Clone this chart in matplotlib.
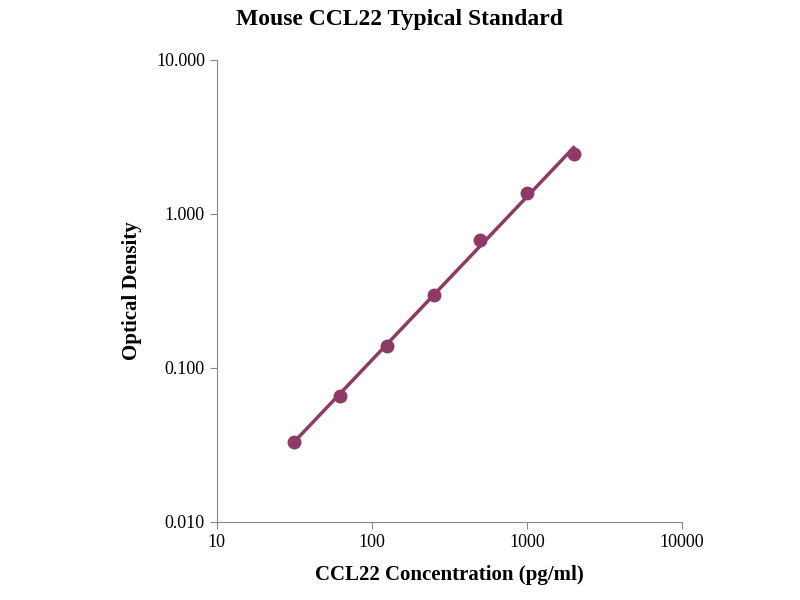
import numpy as np
import matplotlib
matplotlib.use("Agg")
import matplotlib.pyplot as plt
from matplotlib.ticker import FixedLocator, NullLocator

plt.rcParams['font.family'] = ['Liberation Serif', 'DejaVu Serif']

# standard curve points
conc = [31.25, 62.5, 125, 250, 500, 1000, 2000]
od = [0.033, 0.066, 0.138, 0.30, 0.68, 1.37, 2.45]

xticks = [10, 100, 1000, 10000]
xlabels = ['10', '100', '1000', '10000']
yticks = [0.01, 0.1, 1, 10]
ylabels = ['0.010', '0.100', '1.000', '10.000']

color = '#8E3A66'

fig = plt.figure(figsize=(8, 6), dpi=100)
ax = fig.add_axes([0.271, 0.13, 0.5815, 0.77])

# power fit on log scale
slope, icpt = np.polyfit(np.log10(conc), np.log10(od), 1)
xf = np.array([conc[0], conc[-1]])
ax.plot(xf, 10 ** (icpt + slope * np.log10(xf)), color=color, lw=2.5)
ax.plot(conc, od, 'o', color=color, ms=9)

ax.set_xscale('log')
ax.set_yscale('log')
ax.set_xlim(10, 10000)
ax.set_ylim(0.01, 10)
ax.xaxis.set_major_locator(FixedLocator(xticks))
ax.yaxis.set_major_locator(FixedLocator(yticks))
ax.xaxis.set_minor_locator(NullLocator())
ax.yaxis.set_minor_locator(NullLocator())
ax.set_xticklabels(xlabels, fontsize=13)
ax.set_yticklabels(ylabels, fontsize=13)
ax.tick_params(length=5, color='#888888')
for s in ['top', 'right']:
    ax.spines[s].set_visible(False)
for s in ['left', 'bottom']:
    ax.spines[s].set_color('#888888')

ax.set_xlabel('CCL22 Concentration (pg/ml)', fontsize=15, fontweight='bold', labelpad=10)
ax.set_ylabel('Optical Density', fontsize=15, fontweight='bold', labelpad=10)
fig.suptitle('Mouse CCL22 Typical Standard', fontsize=17, fontweight='bold', y=0.985)

fig.savefig('out.png')
